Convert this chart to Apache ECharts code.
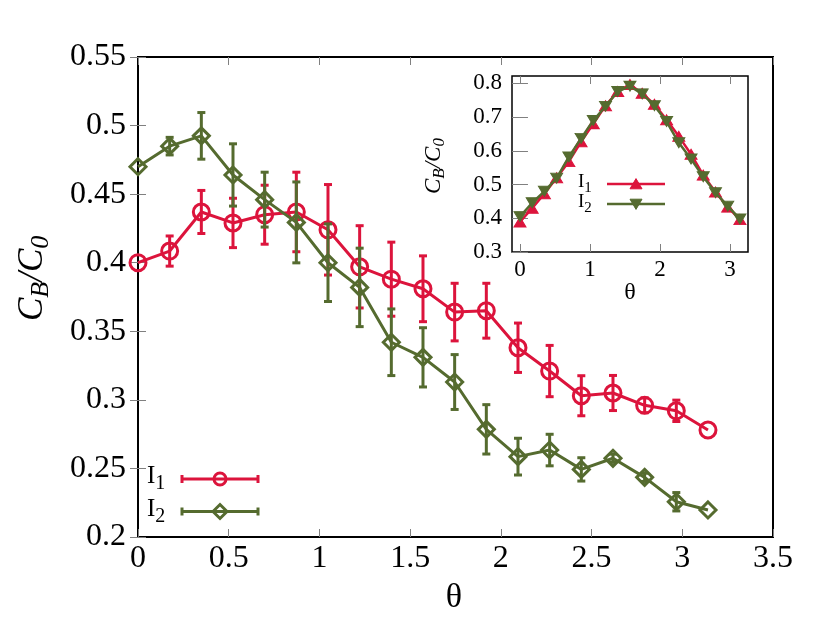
<!DOCTYPE html>
<html>
<head>
<meta charset="utf-8">
<script src="https://cdn.jsdelivr.net/npm/echarts@6/dist/echarts.min.js"></script>
<style>html,body{margin:0;padding:0;background:#fff}#c{width:830px;height:633px}</style>
</head>
<body>
<div id="c"></div>
<script>
// ---- data ----
const theta = [0, 0.1745, 0.3491, 0.5236, 0.6981, 0.8727, 1.0472, 1.2217, 1.3963, 1.5708, 1.7453, 1.9199, 2.0944, 2.2689, 2.4435, 2.6180, 2.7925, 2.9671, 3.1416];
const I1 = [0.400, 0.4085, 0.437, 0.429, 0.435, 0.437, 0.424, 0.397, 0.388, 0.381, 0.364, 0.365, 0.338, 0.321, 0.303, 0.305, 0.296, 0.292, 0.278];
const I1err = [0, 0.011, 0.0157, 0.018, 0.0215, 0.029, 0.033, 0.030, 0.027, 0.024, 0.021, 0.020, 0.018, 0.0187, 0.0146, 0.0128, 0.0054, 0.0078, 0];
const I2 = [0.470, 0.485, 0.4925, 0.464, 0.446, 0.4294, 0.400, 0.382, 0.342, 0.331, 0.313, 0.2785, 0.2586, 0.2634, 0.2493, 0.2574, 0.2435, 0.2257, 0.2197];
const I2err = [0, 0.0064, 0.017, 0.0227, 0.020, 0.0295, 0.0283, 0.0286, 0.0243, 0.0216, 0.020, 0.018, 0.0134, 0.0115, 0.0085, 0.003, 0.003, 0.0067, 0];
const insetI1 = [0.389, 0.430, 0.473, 0.520, 0.568, 0.627, 0.680, 0.734, 0.776, 0.797, 0.771, 0.738, 0.692, 0.643, 0.590, 0.528, 0.478, 0.433, 0.396];
const insetI2 = [0.405, 0.446, 0.480, 0.519, 0.582, 0.637, 0.690, 0.732, 0.776, 0.792, 0.769, 0.734, 0.687, 0.624, 0.576, 0.523, 0.476, 0.436, 0.398];
const mainXTicks = [0, 0.5, 1, 1.5, 2, 2.5, 3, 3.5];
const mainYTicks = [0.2, 0.25, 0.3, 0.35, 0.4, 0.45, 0.5, 0.55];
const insetXTicks = [0, 1, 2, 3];
const insetYTicks = [0.3, 0.4, 0.5, 0.6, 0.7, 0.8];
const seriesNames = ['I1', 'I2'];

// ---- style ----
const RED = '#dc143c', GREEN = '#556b2f';
const FONT = 'Liberation Serif';
const TICK = '#808080';

const chart = echarts.init(document.getElementById('c'), null, {renderer: 'canvas'});

function errRender(color) {
  return function (params, api) {
    const x = api.value(0), y = api.value(1), e = api.value(2);
    if (!e) return null;
    const t = api.coord([x, y + e]);
    const b = api.coord([x, y - e]);
    const w = 4;
    const st = {stroke: color, lineWidth: 3};
    return {type: 'group', children: [
      {type: 'line', shape: {x1: t[0], y1: t[1], x2: b[0], y2: b[1]}, style: st},
      {type: 'line', shape: {x1: t[0] - w, y1: t[1], x2: t[0] + w, y2: t[1]}, style: st},
      {type: 'line', shape: {x1: b[0] - w, y1: b[1], x2: b[0] + w, y2: b[1]}, style: st}
    ]};
  };
}

const zip2 = (a, b) => a.map((v, i) => [v, b[i]]);
const zip3 = (a, b, c) => a.map((v, i) => [v, b[i], c[i]]);

function mkX(grid, min, max, ticks, pos, showLabel, fs, margin) {
  return {
    type: 'value', gridIndex: grid, min: min, max: max, position: pos,
    axisLine: {show: false},
    axisTick: {show: true, inside: true, length: 8, customValues: ticks, lineStyle: {color: TICK, width: 1}},
    axisLabel: {show: showLabel, customValues: ticks, fontFamily: FONT, fontSize: fs, color: '#000', margin: margin},
    splitLine: {show: false}
  };
}

const subRich = (fs, sfs, off) => ({
  n: {fontFamily: FONT, fontStyle: 'italic', fontSize: fs, lineHeight: fs, verticalAlign: 'top', color: '#000'},
  s: {fontFamily: FONT, fontStyle: 'italic', fontSize: sfs, lineHeight: sfs, verticalAlign: 'top', padding: [off, 0, 0, 0], color: '#000'}
});
const subRichUp = (fs, sfs, off) => ({
  n: {fontFamily: FONT, fontSize: fs, lineHeight: fs, verticalAlign: 'top', color: '#000'},
  s: {fontFamily: FONT, fontSize: sfs, lineHeight: sfs, verticalAlign: 'top', padding: [off, 0, 0, 0], color: '#000'}
});

function legendEntry(x0, x1, y, color, symbol, label, tx) {
  const st = {stroke: color, lineWidth: 3};
  const mx = (x0 + x1) / 2;
  let sym;
  if (symbol === 'circle') {
    sym = {type: 'circle', shape: {cx: mx, cy: y, r: 6}, style: {stroke: color, lineWidth: 3, fill: 'none'}};
  } else {
    sym = {type: 'polygon', shape: {points: [[mx - 7, y], [mx, y - 7], [mx + 7, y], [mx, y + 7]]}, style: {stroke: color, lineWidth: 3, fill: 'none'}};
  }
  return [
    {type: 'line', shape: {x1: x0, y1: y, x2: x1, y2: y}, style: st},
    {type: 'line', shape: {x1: x0, y1: y - 4, x2: x0, y2: y + 4}, style: st},
    {type: 'line', shape: {x1: x1, y1: y - 4, x2: x1, y2: y + 4}, style: st},
    sym,
    {type: 'text', x: tx, y: y - 15, style: {text: '{n|I}{s|' + label.slice(1) + '}', rich: subRichUp(25, 20, 10)}}
  ];
}
function insetLegendEntry(x0, x1, y, color, rot, label, tx) {
  const mx = (x0 + x1) / 2;
  const h = 6;
  const pts = rot ? [[mx - h, y - h * 0.8], [mx + h, y - h * 0.8], [mx, y + h * 0.9]] : [[mx - h, y + h * 0.8], [mx + h, y + h * 0.8], [mx, y - h * 0.9]];
  return [
    {type: 'line', shape: {x1: x0, y1: y, x2: x1, y2: y}, style: {stroke: color, lineWidth: 2.5}},
    {type: 'polygon', shape: {points: pts}, style: {fill: color, stroke: color, lineWidth: 1}},
    {type: 'text', x: tx, y: y - 11, style: {text: '{n|I}{s|' + label.slice(1) + '}', rich: subRichUp(19, 15, 8)}}
  ];
}

const graphics = [].concat(
  legendEntry(182, 258, 479, RED, 'circle', seriesNames[0], 147),
  legendEntry(182, 258, 511.5, GREEN, 'diamond', seriesNames[1], 147),
  insetLegendEntry(607, 665, 184, RED, false, seriesNames[0], 578),
  insetLegendEntry(607, 665, 204, GREEN, true, seriesNames[1], 578),
  [
    {type: 'text', x: 454, y: 598, style: {text: 'θ', fontFamily: FONT, fontSize: 34, fill: '#000', align: 'center', verticalAlign: 'middle'}},
    {type: 'text', x: 630, y: 293, style: {text: 'θ', fontFamily: FONT, fontSize: 24, fill: '#000', align: 'center', verticalAlign: 'middle'}},
    {type: 'text', x: 15, y: 321, rotation: Math.PI / 2, style: {text: '{n|C}{s|B}{n|/C}{s|0}', rich: subRich(35, 26, 13)}},
    {type: 'text', x: 422, y: 194, rotation: Math.PI / 2, style: {text: '{n|C}{s|B}{n|/C}{s|0}', rich: subRich(23, 17, 9)}}
  ]
);

const option = {
  animation: false,
  backgroundColor: '#fff',
  grid: [
    {left: 138, top: 57, width: 635, height: 480, show: true, borderColor: '#000', borderWidth: 2, backgroundColor: 'transparent'},
    {left: 512, top: 76, width: 236, height: 176, show: true, borderColor: '#000', borderWidth: 1.5, backgroundColor: '#fff'}
  ],
  xAxis: [
    mkX(0, 0, 3.5, mainXTicks, 'bottom', true, 32, 6),
    mkX(0, 0, 3.5, mainXTicks, 'top', false, 32, 6),
    mkX(1, -0.114, 3.257, insetXTicks, 'bottom', true, 23, 6),
    mkX(1, -0.114, 3.257, insetXTicks, 'top', false, 23, 6)
  ],
  yAxis: [
    mkX(0, 0.2, 0.55, mainYTicks, 'left', true, 32, 12),
    mkX(0, 0.2, 0.55, mainYTicks, 'right', false, 32, 12),
    mkX(1, 0.3, 0.822, insetYTicks, 'left', true, 23, 10),
    mkX(1, 0.3, 0.822, insetYTicks, 'right', false, 23, 10)
  ],
  series: [
    {type: 'custom', xAxisIndex: 0, yAxisIndex: 0, renderItem: errRender(RED), data: zip3(theta, I1, I1err), z: 2, silent: true},
    {type: 'line', name: seriesNames[0], xAxisIndex: 0, yAxisIndex: 0, data: zip2(theta, I1), symbol: 'circle', symbolSize: 16,
      lineStyle: {color: RED, width: 3}, itemStyle: {color: 'rgba(0,0,0,0)', borderColor: RED, borderWidth: 3}, z: 3},
    {type: 'custom', xAxisIndex: 0, yAxisIndex: 0, renderItem: errRender(GREEN), data: zip3(theta, I2, I2err), z: 4, silent: true},
    {type: 'line', name: seriesNames[1], xAxisIndex: 0, yAxisIndex: 0, data: zip2(theta, I2), symbol: 'diamond', symbolSize: [16, 16],
      lineStyle: {color: GREEN, width: 3}, itemStyle: {color: 'rgba(0,0,0,0)', borderColor: GREEN, borderWidth: 3}, z: 5},
    {type: 'line', xAxisIndex: 2, yAxisIndex: 2, data: zip2(theta, insetI1), symbol: 'triangle', symbolSize: [12, 10],
      lineStyle: {color: RED, width: 2.5}, itemStyle: {color: RED, borderColor: RED, borderWidth: 1}, z: 6},
    {type: 'line', xAxisIndex: 2, yAxisIndex: 2, data: zip2(theta, insetI2), symbol: 'triangle', symbolRotate: 180, symbolSize: [12, 10],
      lineStyle: {color: GREEN, width: 2.5}, itemStyle: {color: GREEN, borderColor: GREEN, borderWidth: 1}, z: 7}
  ],
  graphic: graphics
};
chart.setOption(option);
</script>
</body>
</html>
